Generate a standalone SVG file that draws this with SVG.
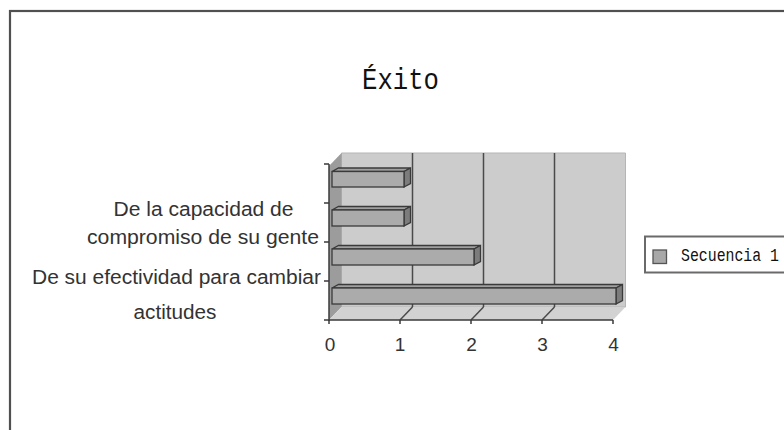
<svg xmlns="http://www.w3.org/2000/svg" width="784" height="430" viewBox="0 0 784 430">
<style>
.lbl{font-family:"Liberation Sans",Arial,sans-serif;font-size:19.5px;fill:#333}
.num{font-family:"Liberation Sans",Arial,sans-serif;font-size:19px;fill:#333;text-anchor:middle}
.mono{font-family:"Liberation Mono","Courier New",monospace;fill:#111}
.ax{stroke:#3a3a3a;stroke-width:1.5;fill:none}
.grid{stroke:#4a4a4a;stroke-width:1.5;fill:none}
.bf{fill:#ababab;stroke:#3a3a3a;stroke-width:1.3}
.bt{fill:#a0a0a0;stroke:#3a3a3a;stroke-width:1.3}
.bs{fill:#7c7c7c;stroke:#3a3a3a;stroke-width:1.3}
</style>
<rect x="0" y="0" width="784" height="430" fill="#ffffff"/>
<rect id="frame" x="10" y="11" width="800" height="450" fill="#ffffff" stroke="#505050" stroke-width="2.2"/>
<g id="title"><text class="mono" x="362" y="88.5" font-size="30" textLength="77" lengthAdjust="spacingAndGlyphs">Éxito</text></g>
<g id="plot">
<polygon points="341.5,153 625.5,153 625.5,307 341.5,307" fill="#cccccc" stroke="#b5b5b5" stroke-width="1"/>
<polygon points="329,166 341.5,153 341.5,307 329,320" fill="#9c9c9c"/>
<polygon points="329,320 613,320 625.5,307 341.5,307" fill="#d2d2d2"/>
</g>
<g id="connectors">
<line class="grid" x1="412.5" y1="153" x2="412.5" y2="307"/>
<line class="grid" x1="483.5" y1="153" x2="483.5" y2="307"/>
<line class="grid" x1="554.5" y1="153" x2="554.5" y2="307"/>
<line class="grid" x1="412.5" y1="307" x2="400" y2="320"/>
<line class="grid" x1="483.5" y1="307" x2="471" y2="320"/>
<line class="grid" x1="554.5" y1="307" x2="542" y2="320"/>
<line class="ax" x1="329" y1="164" x2="329" y2="321"/>
<line class="ax" x1="329" y1="320" x2="613" y2="320"/>
<line class="ax" x1="324" y1="164" x2="329" y2="164"/>
<line class="ax" x1="324" y1="203" x2="329" y2="203"/>
<line class="ax" x1="324" y1="242" x2="329" y2="242"/>
<line class="ax" x1="324" y1="281" x2="329" y2="281"/>
<line class="ax" x1="324" y1="320" x2="329" y2="320"/>
<line class="ax" x1="329" y1="320" x2="329" y2="324"/>
<line class="ax" x1="400" y1="320" x2="400" y2="324"/>
<line class="ax" x1="471" y1="320" x2="471" y2="324"/>
<line class="ax" x1="542" y1="320" x2="542" y2="324"/>
<line class="ax" x1="613" y1="320" x2="613" y2="324"/>
</g>
<g id="bar1">
<polygon class="bt" points="332,171.5 338.5,168 410.5,168 404,171.5"/>
<polygon class="bs" points="404,171.5 410.5,168 410.5,183.5 404,187"/>
<rect class="bf" x="332" y="171.5" width="72" height="15.5"/>
</g>
<g id="bar2">
<polygon class="bt" points="332,210 338.5,206.5 410.5,206.5 404,210"/>
<polygon class="bs" points="404,210 410.5,206.5 410.5,222.5 404,226"/>
<rect class="bf" x="332" y="210" width="72" height="16"/>
</g>
<g id="bar3">
<polygon class="bt" points="332,249 338.5,245.5 480.5,245.5 474,249"/>
<polygon class="bs" points="474,249 480.5,245.5 480.5,261.5 474,265"/>
<rect class="bf" x="332" y="249" width="142" height="16"/>
</g>
<g id="bar4">
<polygon class="bt" points="332,288 338.5,284.5 622.5,284.5 616,288"/>
<polygon class="bs" points="616,288 622.5,284.5 622.5,300.5 616,304"/>
<rect class="bf" x="332" y="288" width="284" height="16"/>
</g>
<g id="labels">
<text class="lbl" x="113.5" y="216" textLength="180" lengthAdjust="spacingAndGlyphs">De la capacidad de</text>
<text class="lbl" x="87" y="244" textLength="232" lengthAdjust="spacingAndGlyphs">compromiso de su gente</text>
<text class="lbl" x="32" y="283.5" textLength="289" lengthAdjust="spacingAndGlyphs">De su efectividad para cambiar</text>
<text class="lbl" x="133.5" y="318.5" textLength="83" lengthAdjust="spacingAndGlyphs">actitudes</text>
<text class="num" x="330" y="351">0</text>
<text class="num" x="400" y="351">1</text>
<text class="num" x="471.5" y="351">2</text>
<text class="num" x="542.5" y="351">3</text>
<text class="num" x="613.5" y="351">4</text>
</g>
<g id="legend">
<rect x="645" y="236.5" width="160" height="36" fill="#ffffff" stroke="#6a6a6a" stroke-width="2"/>
<rect x="653" y="250" width="13.5" height="13.5" fill="#a8a8a8" stroke="#555" stroke-width="1.3"/>
<text class="mono" x="681" y="261" font-size="18" textLength="98" lengthAdjust="spacingAndGlyphs">Secuencia 1</text>
</g>
</svg>
